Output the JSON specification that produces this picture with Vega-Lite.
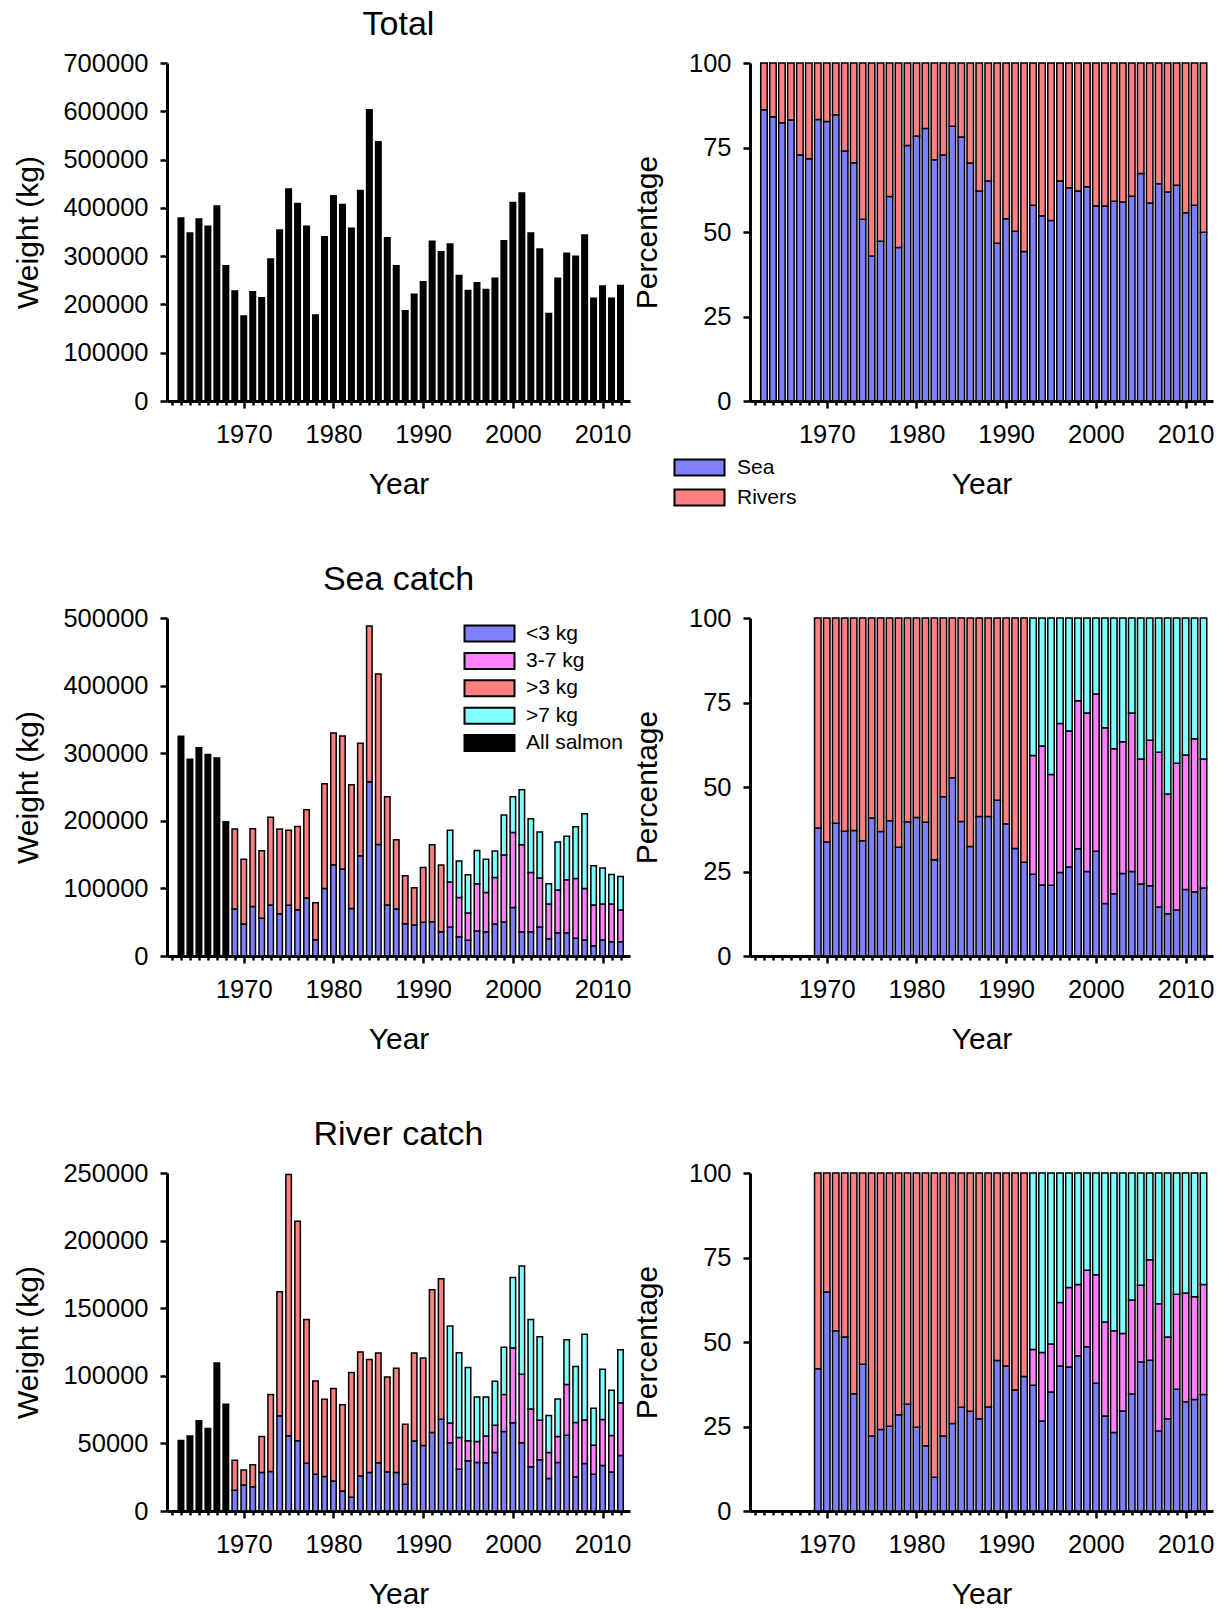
{
"$schema":"https://vega.github.io/schema/vega-lite/v6.json",
"background":"white",
"padding":{"left":13,"top":7,"right":5,"bottom":5},
"config":{
 "font":"Liberation Sans",
 "view":{"stroke":null},
 "axis":{"grid":false,"domainColor":"#000","domainWidth":3,"tickColor":"#000","tickWidth":2.5,"labelFont":"Liberation Sans","labelFontSize":25.5,"labelColor":"#000","titleFont":"Liberation Sans","titleFontSize":30,"titleFontWeight":"normal","titleColor":"#000"},
 "title":{"font":"Liberation Sans","fontSize":34,"fontWeight":"normal","color":"#000","anchor":"middle","frame":"group"},
 "legend":{"labelFont":"Liberation Sans","labelFontSize":21,"labelColor":"#000","symbolStrokeColor":"#000","symbolStrokeWidth":2,"padding":0}
},
"datasets":{
 "cats":[{"cat":"<3 kg","rank":1},{"cat":"3-7 kg","rank":2},{"cat":">3 kg","rank":2},{"cat":">7 kg","rank":3},{"cat":"All salmon","rank":1},{"cat":"Sea","rank":1},{"cat":"Rivers","rank":2}],
 "total":[{"year":1963,"w":379000},{"year":1964,"w":348000},{"year":1965,"w":377000},{"year":1966,"w":362000},{"year":1967,"w":404000},{"year":1968,"w":280000},{"year":1969,"w":228000},{"year":1970,"w":176000},{"year":1971,"w":226000},{"year":1972,"w":214000},{"year":1973,"w":294000},{"year":1974,"w":354000},{"year":1975,"w":439000},{"year":1976,"w":409000},{"year":1977,"w":362000},{"year":1978,"w":178000},{"year":1979,"w":340000},{"year":1980,"w":425000},{"year":1981,"w":407000},{"year":1982,"w":358000},{"year":1983,"w":436000},{"year":1984,"w":603000},{"year":1985,"w":537000},{"year":1986,"w":338000},{"year":1987,"w":280000},{"year":1988,"w":187000},{"year":1989,"w":221000},{"year":1990,"w":247000},{"year":1991,"w":331000},{"year":1992,"w":309000},{"year":1993,"w":325000},{"year":1994,"w":260000},{"year":1995,"w":229000},{"year":1996,"w":245000},{"year":1997,"w":231000},{"year":1998,"w":254000},{"year":1999,"w":332000},{"year":2000,"w":411000},{"year":2001,"w":431000},{"year":2002,"w":348000},{"year":2003,"w":315000},{"year":2004,"w":181000},{"year":2005,"w":254000},{"year":2006,"w":306000},{"year":2007,"w":300000},{"year":2008,"w":344000},{"year":2009,"w":213000},{"year":2010,"w":238000},{"year":2011,"w":213000},{"year":2012,"w":239000}],
 "pcttop":[{"year":1963,"Sea":86.2,"Rivers":13.8},{"year":1964,"Sea":84.1,"Rivers":15.9},{"year":1965,"Sea":82.3,"Rivers":17.7},{"year":1966,"Sea":83.1,"Rivers":16.9},{"year":1967,"Sea":72.8,"Rivers":27.2},{"year":1968,"Sea":71.7,"Rivers":28.3},{"year":1969,"Sea":83.3,"Rivers":16.7},{"year":1970,"Sea":82.7,"Rivers":17.3},{"year":1971,"Sea":84.7,"Rivers":15.3},{"year":1972,"Sea":74.0,"Rivers":26.0},{"year":1973,"Sea":70.5,"Rivers":29.5},{"year":1974,"Sea":53.8,"Rivers":46.2},{"year":1975,"Sea":42.9,"Rivers":57.1},{"year":1976,"Sea":47.3,"Rivers":52.7},{"year":1977,"Sea":60.5,"Rivers":39.5},{"year":1978,"Sea":45.4,"Rivers":54.6},{"year":1979,"Sea":75.6,"Rivers":24.4},{"year":1980,"Sea":78.4,"Rivers":21.6},{"year":1981,"Sea":80.6,"Rivers":19.4},{"year":1982,"Sea":71.4,"Rivers":28.6},{"year":1983,"Sea":72.8,"Rivers":27.2},{"year":1984,"Sea":81.3,"Rivers":18.7},{"year":1985,"Sea":78.1,"Rivers":21.9},{"year":1986,"Sea":70.4,"Rivers":29.6},{"year":1987,"Sea":62.1,"Rivers":37.9},{"year":1988,"Sea":65.1,"Rivers":34.9},{"year":1989,"Sea":46.7,"Rivers":53.3},{"year":1990,"Sea":53.9,"Rivers":46.1},{"year":1991,"Sea":50.2,"Rivers":49.8},{"year":1992,"Sea":44.2,"Rivers":55.8},{"year":1993,"Sea":57.9,"Rivers":42.1},{"year":1994,"Sea":54.8,"Rivers":45.2},{"year":1995,"Sea":53.4,"Rivers":46.6},{"year":1996,"Sea":65.1,"Rivers":34.9},{"year":1997,"Sea":63.1,"Rivers":36.9},{"year":1998,"Sea":62.1,"Rivers":37.9},{"year":1999,"Sea":63.4,"Rivers":36.6},{"year":2000,"Sea":57.7,"Rivers":42.3},{"year":2001,"Sea":57.7,"Rivers":42.3},{"year":2002,"Sea":59.1,"Rivers":40.9},{"year":2003,"Sea":58.9,"Rivers":41.1},{"year":2004,"Sea":60.6,"Rivers":39.4},{"year":2005,"Sea":67.3,"Rivers":32.7},{"year":2006,"Sea":58.6,"Rivers":41.4},{"year":2007,"Sea":64.3,"Rivers":35.7},{"year":2008,"Sea":61.8,"Rivers":38.2},{"year":2009,"Sea":63.8,"Rivers":36.2},{"year":2010,"Sea":55.7,"Rivers":44.3},{"year":2011,"Sea":57.9,"Rivers":42.1},{"year":2012,"Sea":49.9,"Rivers":50.1}],
 "sea":[{"year":1963,"All salmon":325000},{"year":1964,"All salmon":291000},{"year":1965,"All salmon":308000},{"year":1966,"All salmon":298000},{"year":1967,"All salmon":293000},{"year":1968,"All salmon":198500},
  {"year":1969,"<3 kg":69500,">3 kg":118200},{"year":1970,"<3 kg":47300,">3 kg":96000},{"year":1971,"<3 kg":73400,">3 kg":114800},{"year":1972,"<3 kg":55700,">3 kg":100000},{"year":1973,"<3 kg":75400,">3 kg":130000},{"year":1974,"<3 kg":62600,">3 kg":125100},{"year":1975,"<3 kg":74900,">3 kg":111300},{"year":1976,"<3 kg":68500,">3 kg":123100},{"year":1977,"<3 kg":85700,">3 kg":130600},{"year":1978,"<3 kg":24100,">3 kg":54700},{"year":1979,"<3 kg":100000,">3 kg":154700},{"year":1980,"<3 kg":135000,">3 kg":195000},{"year":1981,"<3 kg":128600,">3 kg":197000},{"year":1982,"<3 kg":70400,">3 kg":182800},{"year":1983,"<3 kg":148300,">3 kg":166500},{"year":1984,"<3 kg":257600,">3 kg":230600},{"year":1985,"<3 kg":165000,">3 kg":252200},{"year":1986,"<3 kg":75400,">3 kg":160100},{"year":1987,"<3 kg":69500,">3 kg":102400},{"year":1988,"<3 kg":47800,">3 kg":70900},{"year":1989,"<3 kg":45800,">3 kg":55200},{"year":1990,"<3 kg":49800,">3 kg":81200},{"year":1991,"<3 kg":50700,">3 kg":113800},{"year":1992,"<3 kg":36000,">3 kg":98500},
  {"year":1993,"<3 kg":42900,"3-7 kg":66500,">7 kg":76800},{"year":1994,"<3 kg":28600,"3-7 kg":58100,">7 kg":53700},{"year":1995,"<3 kg":23200,"3-7 kg":40300,">7 kg":56700},{"year":1996,"<3 kg":36900,"3-7 kg":70000,">7 kg":49300},{"year":1997,"<3 kg":36000,"3-7 kg":58100,">7 kg":49200},{"year":1998,"<3 kg":47300,"3-7 kg":69000,">7 kg":38900},{"year":1999,"<3 kg":50200,"3-7 kg":99100,">7 kg":59100},{"year":2000,"<3 kg":71900,"3-7 kg":110900,">7 kg":52700},{"year":2001,"<3 kg":36000,"3-7 kg":128500,">7 kg":81300},{"year":2002,"<3 kg":36000,"3-7 kg":87600,">7 kg":79400},{"year":2003,"<3 kg":42900,"3-7 kg":72400,">7 kg":68000},{"year":2004,"<3 kg":25600,"3-7 kg":51200,">7 kg":30100},{"year":2005,"<3 kg":34500,"3-7 kg":63000,">7 kg":71000},{"year":2006,"<3 kg":34500,"3-7 kg":78300,">7 kg":64500},{"year":2007,"<3 kg":26100,"3-7 kg":88700,">7 kg":76300},{"year":2008,"<3 kg":23600,"3-7 kg":76400,">7 kg":110300},{"year":2009,"<3 kg":15300,"3-7 kg":60100,">7 kg":58100},{"year":2010,"<3 kg":23600,"3-7 kg":53200,">7 kg":53200},{"year":2011,"<3 kg":21200,"3-7 kg":55600,">7 kg":43900},{"year":2012,"<3 kg":21200,"3-7 kg":46800,">7 kg":49700}],
 "river":[{"year":1963,"All salmon":52200},{"year":1964,"All salmon":55400},{"year":1965,"All salmon":66700},{"year":1966,"All salmon":61000},{"year":1967,"All salmon":109500},{"year":1968,"All salmon":79000},
  {"year":1969,"<3 kg":15300,">3 kg":22300},{"year":1970,"<3 kg":19200,">3 kg":11100},{"year":1971,"<3 kg":18000,">3 kg":16200},{"year":1972,"<3 kg":28500,">3 kg":26600},{"year":1973,"<3 kg":29300,">3 kg":56800},{"year":1974,"<3 kg":70400,">3 kg":91800},{"year":1975,"<3 kg":55600,">3 kg":193200},{"year":1976,"<3 kg":51900,">3 kg":162400},{"year":1977,"<3 kg":35400,">3 kg":106300},{"year":1978,"<3 kg":27100,">3 kg":69100},{"year":1979,"<3 kg":25600,">3 kg":57100},{"year":1980,"<3 kg":22100,">3 kg":68500},{"year":1981,"<3 kg":14800,">3 kg":63700},{"year":1982,"<3 kg":10100,">3 kg":92300},{"year":1983,"<3 kg":25800,">3 kg":91800},{"year":1984,"<3 kg":28500,">3 kg":83500},{"year":1985,"<3 kg":35700,">3 kg":81200},{"year":1986,"<3 kg":29000,">3 kg":70200},{"year":1987,"<3 kg":28500,">3 kg":77100},{"year":1988,"<3 kg":19700,">3 kg":44500},{"year":1989,"<3 kg":51700,">3 kg":65200},{"year":1990,"<3 kg":48500,">3 kg":64700},{"year":1991,"<3 kg":58100,">3 kg":105500},{"year":1992,"<3 kg":67900,">3 kg":103800},
  {"year":1993,"<3 kg":50400,"3-7 kg":14600,">7 kg":71800},{"year":1994,"<3 kg":30800,"3-7 kg":23600,">7 kg":62700},{"year":1995,"<3 kg":37200,"3-7 kg":14700,">7 kg":54200},{"year":1996,"<3 kg":35900,"3-7 kg":15500,">7 kg":33000},{"year":1997,"<3 kg":35700,"3-7 kg":19700,">7 kg":29000},{"year":1998,"<3 kg":43300,"3-7 kg":20200,">7 kg":32500},{"year":1999,"<3 kg":58800,"3-7 kg":27300,">7 kg":35000},{"year":2000,"<3 kg":65200,"3-7 kg":55400,">7 kg":52100},{"year":2001,"<3 kg":50400,"3-7 kg":50700,">7 kg":80200},{"year":2002,"<3 kg":32700,"3-7 kg":42800,">7 kg":66200},{"year":2003,"<3 kg":37900,"3-7 kg":29300,">7 kg":61700},{"year":2004,"<3 kg":24100,"3-7 kg":19200,">7 kg":27300},{"year":2005,"<3 kg":35900,"3-7 kg":19200,">7 kg":27800},{"year":2006,"<3 kg":56100,"3-7 kg":37400,">7 kg":33200},{"year":2007,"<3 kg":25100,"3-7 kg":40400,">7 kg":41300},{"year":2008,"<3 kg":35200,"3-7 kg":32200,">7 kg":63300},{"year":2009,"<3 kg":27100,"3-7 kg":21600,">7 kg":27300},{"year":2010,"<3 kg":33700,"3-7 kg":34000,">7 kg":37100},{"year":2011,"<3 kg":28800,"3-7 kg":27100,">7 kg":33400},{"year":2012,"<3 kg":41100,"3-7 kg":38900,">7 kg":39300}],
 "pctsea":[{"year":1969,"<3 kg":37.9,">3 kg":62.1},{"year":1970,"<3 kg":33.7,">3 kg":66.3},{"year":1971,"<3 kg":39.3,">3 kg":60.7},{"year":1972,"<3 kg":36.9,">3 kg":63.1},{"year":1973,"<3 kg":37.1,">3 kg":62.9},{"year":1974,"<3 kg":34.1,">3 kg":65.9},{"year":1975,"<3 kg":40.8,">3 kg":59.2},{"year":1976,"<3 kg":36.8,">3 kg":63.2},{"year":1977,"<3 kg":40.0,">3 kg":60.0},{"year":1978,"<3 kg":32.2,">3 kg":67.8},{"year":1979,"<3 kg":39.7,">3 kg":60.3},{"year":1980,"<3 kg":41.0,">3 kg":59.0},{"year":1981,"<3 kg":39.6,">3 kg":60.4},{"year":1982,"<3 kg":28.5,">3 kg":71.5},{"year":1983,"<3 kg":47.1,">3 kg":52.9},{"year":1984,"<3 kg":52.7,">3 kg":47.3},{"year":1985,"<3 kg":39.8,">3 kg":60.2},{"year":1986,"<3 kg":32.4,">3 kg":67.6},{"year":1987,"<3 kg":41.3,">3 kg":58.7},{"year":1988,"<3 kg":41.3,">3 kg":58.7},{"year":1989,"<3 kg":46.1,">3 kg":53.9},{"year":1990,"<3 kg":39.1,">3 kg":60.9},{"year":1991,"<3 kg":31.8,">3 kg":68.2},{"year":1992,"<3 kg":27.7,">3 kg":72.3},
  {"year":1993,"<3 kg":24.2,"3-7 kg":35.1,">7 kg":40.7},{"year":1994,"<3 kg":21.0,"3-7 kg":41.1,">7 kg":37.9},{"year":1995,"<3 kg":20.9,"3-7 kg":32.8,">7 kg":46.3},{"year":1996,"<3 kg":24.7,"3-7 kg":44.1,">7 kg":31.2},{"year":1997,"<3 kg":26.3,"3-7 kg":40.3,">7 kg":33.4},{"year":1998,"<3 kg":31.7,"3-7 kg":43.8,">7 kg":24.5},{"year":1999,"<3 kg":25.0,"3-7 kg":46.9,">7 kg":28.1},{"year":2000,"<3 kg":31.0,"3-7 kg":46.5,">7 kg":22.5},{"year":2001,"<3 kg":15.5,"3-7 kg":52.0,">7 kg":32.5},{"year":2002,"<3 kg":18.4,"3-7 kg":42.9,">7 kg":38.7},{"year":2003,"<3 kg":24.4,"3-7 kg":39.0,">7 kg":36.6},{"year":2004,"<3 kg":25.0,"3-7 kg":46.9,">7 kg":28.1},{"year":2005,"<3 kg":21.3,"3-7 kg":37.0,">7 kg":41.7},{"year":2006,"<3 kg":20.8,"3-7 kg":43.0,">7 kg":36.2},{"year":2007,"<3 kg":14.5,"3-7 kg":45.8,">7 kg":39.7},{"year":2008,"<3 kg":12.5,"3-7 kg":35.4,">7 kg":52.1},{"year":2009,"<3 kg":13.6,"3-7 kg":43.4,">7 kg":43.0},{"year":2010,"<3 kg":19.7,"3-7 kg":39.8,">7 kg":40.5},{"year":2011,"<3 kg":19.0,"3-7 kg":45.3,">7 kg":35.7},{"year":2012,"<3 kg":20.1,"3-7 kg":38.2,">7 kg":41.7}],
 "pctriver":[{"year":1969,"<3 kg":42.1,">3 kg":57.9},{"year":1970,"<3 kg":64.8,">3 kg":35.2},{"year":1971,"<3 kg":53.3,">3 kg":46.7},{"year":1972,"<3 kg":51.5,">3 kg":48.5},{"year":1973,"<3 kg":34.7,">3 kg":65.3},{"year":1974,"<3 kg":43.4,">3 kg":56.6},{"year":1975,"<3 kg":22.2,">3 kg":77.8},{"year":1976,"<3 kg":24.1,">3 kg":75.9},{"year":1977,"<3 kg":25.1,">3 kg":74.9},{"year":1978,"<3 kg":28.5,">3 kg":71.5},{"year":1979,"<3 kg":31.6,">3 kg":68.4},{"year":1980,"<3 kg":24.8,">3 kg":75.2},{"year":1981,"<3 kg":19.3,">3 kg":80.7},{"year":1982,"<3 kg":10.0,">3 kg":90.0},{"year":1983,"<3 kg":22.2,">3 kg":77.8},{"year":1984,"<3 kg":25.9,">3 kg":74.1},{"year":1985,"<3 kg":30.7,">3 kg":69.3},{"year":1986,"<3 kg":29.5,">3 kg":70.5},{"year":1987,"<3 kg":27.3,">3 kg":72.7},{"year":1988,"<3 kg":30.8,">3 kg":69.2},{"year":1989,"<3 kg":44.5,">3 kg":55.5},{"year":1990,"<3 kg":42.9,">3 kg":57.1},{"year":1991,"<3 kg":35.8,">3 kg":64.2},{"year":1992,"<3 kg":39.8,">3 kg":60.2},
  {"year":1993,"<3 kg":37.2,"3-7 kg":10.6,">7 kg":52.2},{"year":1994,"<3 kg":26.6,"3-7 kg":20.3,">7 kg":53.1},{"year":1995,"<3 kg":35.2,"3-7 kg":14.2,">7 kg":50.6},{"year":1996,"<3 kg":42.9,"3-7 kg":18.8,">7 kg":38.3},{"year":1997,"<3 kg":42.6,"3-7 kg":23.5,">7 kg":33.9},{"year":1998,"<3 kg":45.9,"3-7 kg":21.1,">7 kg":33.0},{"year":1999,"<3 kg":48.6,"3-7 kg":22.6,">7 kg":28.8},{"year":2000,"<3 kg":37.8,"3-7 kg":32.1,">7 kg":30.1},{"year":2001,"<3 kg":28.1,"3-7 kg":27.8,">7 kg":44.1},{"year":2002,"<3 kg":23.2,"3-7 kg":30.1,">7 kg":46.7},{"year":2003,"<3 kg":29.6,"3-7 kg":22.9,">7 kg":47.5},{"year":2004,"<3 kg":34.6,"3-7 kg":27.8,">7 kg":37.6},{"year":2005,"<3 kg":44.1,"3-7 kg":22.7,">7 kg":33.2},{"year":2006,"<3 kg":44.6,"3-7 kg":29.7,">7 kg":25.7},{"year":2007,"<3 kg":23.7,"3-7 kg":37.6,">7 kg":38.7},{"year":2008,"<3 kg":27.3,"3-7 kg":24.2,">7 kg":48.5},{"year":2009,"<3 kg":36.0,"3-7 kg":28.1,">7 kg":35.9},{"year":2010,"<3 kg":32.3,"3-7 kg":32.2,">7 kg":35.5},{"year":2011,"<3 kg":33.0,"3-7 kg":30.4,">7 kg":36.6},{"year":2012,"<3 kg":34.5,"3-7 kg":32.5,">7 kg":33.0}]
},
"columns":2,
"spacing":{"row":217,"column":120},
"bounds":"flush",
"resolve":{"scale":{"x":"independent","y":"independent","color":"independent"},"legend":{"color":"independent"}},
"concat":[
 {"width":463,"height":338,"title":{"text":"Total","offset":9.5},
  "data":{"name":"total"},
  "mark":{"type":"bar","width":5.5,"fill":"#000","stroke":"#000","strokeWidth":1.5},
  "encoding":{
   "x":{"field":"year","type":"quantitative","scale":{"domain":[1962,2012.5],"nice":false,"zero":false},"axis":{"title":"Year","values":[1962,1963,1964,1965,1966,1967,1968,1969,1970,1971,1972,1973,1974,1975,1976,1977,1978,1979,1980,1981,1982,1983,1984,1985,1986,1987,1988,1989,1990,1991,1992,1993,1994,1995,1996,1997,1998,1999,2000,2001,2002,2003,2004,2005,2006,2007,2008,2009,2010,2011,2012],"labelExpr":"datum.value % 10 === 0 ? '' + datum.value : ''","tickSize":{"condition":{"test":"datum.value % 10 === 0","value":7},"value":4},"labelPadding":14,"titlePadding":22,"labelOverlap":false,"labelFlush":false,"labelBound":false}},
   "y":{"field":"w","type":"quantitative","scale":{"domain":[0,700000],"nice":false},"axis":{"title":"Weight (kg)","values":[0,100000,200000,300000,400000,500000,600000,700000],"format":"d","tickSize":7,"labelPadding":12,"titlePadding":19}}
  }},
 {"width":463,"height":338,
  "data":{"name":"pcttop"},
  "transform":[{"fold":["Sea","Rivers"],"as":["cat","p"]},{"filter":{"field":"p","valid":true}},{"lookup":"cat","from":{"data":{"name":"cats"},"key":"cat","fields":["rank"]}}],
  "mark":{"type":"bar","width":6.5,"stroke":"#000","strokeWidth":1.5},
  "encoding":{
   "x":{"field":"year","type":"quantitative","scale":{"domain":[1962,2012.5],"nice":false,"zero":false},"axis":{"title":"Year","values":[1962,1963,1964,1965,1966,1967,1968,1969,1970,1971,1972,1973,1974,1975,1976,1977,1978,1979,1980,1981,1982,1983,1984,1985,1986,1987,1988,1989,1990,1991,1992,1993,1994,1995,1996,1997,1998,1999,2000,2001,2002,2003,2004,2005,2006,2007,2008,2009,2010,2011,2012],"labelExpr":"datum.value % 10 === 0 ? '' + datum.value : ''","tickSize":{"condition":{"test":"datum.value % 10 === 0","value":7},"value":4},"labelPadding":14,"titlePadding":22,"labelOverlap":false,"labelFlush":false,"labelBound":false}},
   "y":{"field":"p","type":"quantitative","stack":"zero","scale":{"domain":[0,100],"nice":false},"axis":{"title":"Percentage","values":[0,25,50,75,100],"tickSize":7,"labelPadding":12,"titlePadding":26}},
   "color":{"field":"cat","type":"nominal","scale":{"domain":["Sea","Rivers"],"range":["#8080ff","#ff8080"]},"legend":{"title":null,"orient":"none","legendX":-61,"legendY":394,"symbolType":"M-3.125,-1H3.125V1H-3.125Z","symbolSize":256,"labelOffset":27,"rowPadding":5}},
   "order":{"field":"rank","type":"quantitative","sort":"ascending"}
  }},
 {"width":463,"height":338,"title":{"text":"Sea catch","offset":9.5},
  "data":{"name":"sea"},
  "transform":[{"fold":["<3 kg","3-7 kg",">3 kg",">7 kg","All salmon"],"as":["cat","w"]},{"filter":{"field":"w","valid":true}},{"lookup":"cat","from":{"data":{"name":"cats"},"key":"cat","fields":["rank"]}}],
  "mark":{"type":"bar","width":5.5,"stroke":"#000","strokeWidth":1.5},
  "encoding":{
   "x":{"field":"year","type":"quantitative","scale":{"domain":[1962,2012.5],"nice":false,"zero":false},"axis":{"title":"Year","values":[1962,1963,1964,1965,1966,1967,1968,1969,1970,1971,1972,1973,1974,1975,1976,1977,1978,1979,1980,1981,1982,1983,1984,1985,1986,1987,1988,1989,1990,1991,1992,1993,1994,1995,1996,1997,1998,1999,2000,2001,2002,2003,2004,2005,2006,2007,2008,2009,2010,2011,2012],"labelExpr":"datum.value % 10 === 0 ? '' + datum.value : ''","tickSize":{"condition":{"test":"datum.value % 10 === 0","value":7},"value":4},"labelPadding":14,"titlePadding":22,"labelOverlap":false,"labelFlush":false,"labelBound":false}},
   "y":{"field":"w","type":"quantitative","stack":"zero","scale":{"domain":[0,500000],"nice":false},"axis":{"title":"Weight (kg)","values":[0,100000,200000,300000,400000,500000],"format":"d","tickSize":7,"labelPadding":12,"titlePadding":19}},
   "color":{"field":"cat","type":"nominal","scale":{"domain":["<3 kg","3-7 kg",">3 kg",">7 kg","All salmon"],"range":["#8080ff","#ff80ff","#ff8080","#80ffff","#000000"]},"legend":{"title":null,"orient":"none","legendX":312,"legendY":5,"symbolType":"M-3.125,-1H3.125V1H-3.125Z","symbolSize":256,"labelOffset":26,"rowPadding":2.4}},
   "order":{"field":"rank","type":"quantitative","sort":"ascending"}
  }},
 {"width":463,"height":338,
  "data":{"name":"pctsea"},
  "transform":[{"fold":["<3 kg","3-7 kg",">3 kg",">7 kg"],"as":["cat","p"]},{"filter":{"field":"p","valid":true}},{"lookup":"cat","from":{"data":{"name":"cats"},"key":"cat","fields":["rank"]}}],
  "mark":{"type":"bar","width":6.5,"stroke":"#000","strokeWidth":1.5},
  "encoding":{
   "x":{"field":"year","type":"quantitative","scale":{"domain":[1962,2012.5],"nice":false,"zero":false},"axis":{"title":"Year","values":[1962,1963,1964,1965,1966,1967,1968,1969,1970,1971,1972,1973,1974,1975,1976,1977,1978,1979,1980,1981,1982,1983,1984,1985,1986,1987,1988,1989,1990,1991,1992,1993,1994,1995,1996,1997,1998,1999,2000,2001,2002,2003,2004,2005,2006,2007,2008,2009,2010,2011,2012],"labelExpr":"datum.value % 10 === 0 ? '' + datum.value : ''","tickSize":{"condition":{"test":"datum.value % 10 === 0","value":7},"value":4},"labelPadding":14,"titlePadding":22,"labelOverlap":false,"labelFlush":false,"labelBound":false}},
   "y":{"field":"p","type":"quantitative","stack":"zero","scale":{"domain":[0,100],"nice":false},"axis":{"title":"Percentage","values":[0,25,50,75,100],"tickSize":7,"labelPadding":12,"titlePadding":26}},
   "color":{"field":"cat","type":"nominal","scale":{"domain":["<3 kg","3-7 kg",">3 kg",">7 kg","All salmon"],"range":["#8080ff","#ff80ff","#ff8080","#80ffff","#000000"]},"legend":null},
   "order":{"field":"rank","type":"quantitative","sort":"ascending"}
  }},
 {"width":463,"height":338,"title":{"text":"River catch","offset":9.5},
  "data":{"name":"river"},
  "transform":[{"fold":["<3 kg","3-7 kg",">3 kg",">7 kg","All salmon"],"as":["cat","w"]},{"filter":{"field":"w","valid":true}},{"lookup":"cat","from":{"data":{"name":"cats"},"key":"cat","fields":["rank"]}}],
  "mark":{"type":"bar","width":5.5,"stroke":"#000","strokeWidth":1.5},
  "encoding":{
   "x":{"field":"year","type":"quantitative","scale":{"domain":[1962,2012.5],"nice":false,"zero":false},"axis":{"title":"Year","values":[1962,1963,1964,1965,1966,1967,1968,1969,1970,1971,1972,1973,1974,1975,1976,1977,1978,1979,1980,1981,1982,1983,1984,1985,1986,1987,1988,1989,1990,1991,1992,1993,1994,1995,1996,1997,1998,1999,2000,2001,2002,2003,2004,2005,2006,2007,2008,2009,2010,2011,2012],"labelExpr":"datum.value % 10 === 0 ? '' + datum.value : ''","tickSize":{"condition":{"test":"datum.value % 10 === 0","value":7},"value":4},"labelPadding":14,"titlePadding":22,"labelOverlap":false,"labelFlush":false,"labelBound":false}},
   "y":{"field":"w","type":"quantitative","stack":"zero","scale":{"domain":[0,250000],"nice":false},"axis":{"title":"Weight (kg)","values":[0,50000,100000,150000,200000,250000],"format":"d","tickSize":7,"labelPadding":12,"titlePadding":19}},
   "color":{"field":"cat","type":"nominal","scale":{"domain":["<3 kg","3-7 kg",">3 kg",">7 kg","All salmon"],"range":["#8080ff","#ff80ff","#ff8080","#80ffff","#000000"]},"legend":null},
   "order":{"field":"rank","type":"quantitative","sort":"ascending"}
  }},
 {"width":463,"height":338,
  "data":{"name":"pctriver"},
  "transform":[{"fold":["<3 kg","3-7 kg",">3 kg",">7 kg"],"as":["cat","p"]},{"filter":{"field":"p","valid":true}},{"lookup":"cat","from":{"data":{"name":"cats"},"key":"cat","fields":["rank"]}}],
  "mark":{"type":"bar","width":6.5,"stroke":"#000","strokeWidth":1.5},
  "encoding":{
   "x":{"field":"year","type":"quantitative","scale":{"domain":[1962,2012.5],"nice":false,"zero":false},"axis":{"title":"Year","values":[1962,1963,1964,1965,1966,1967,1968,1969,1970,1971,1972,1973,1974,1975,1976,1977,1978,1979,1980,1981,1982,1983,1984,1985,1986,1987,1988,1989,1990,1991,1992,1993,1994,1995,1996,1997,1998,1999,2000,2001,2002,2003,2004,2005,2006,2007,2008,2009,2010,2011,2012],"labelExpr":"datum.value % 10 === 0 ? '' + datum.value : ''","tickSize":{"condition":{"test":"datum.value % 10 === 0","value":7},"value":4},"labelPadding":14,"titlePadding":22,"labelOverlap":false,"labelFlush":false,"labelBound":false}},
   "y":{"field":"p","type":"quantitative","stack":"zero","scale":{"domain":[0,100],"nice":false},"axis":{"title":"Percentage","values":[0,25,50,75,100],"tickSize":7,"labelPadding":12,"titlePadding":26}},
   "color":{"field":"cat","type":"nominal","scale":{"domain":["<3 kg","3-7 kg",">3 kg",">7 kg","All salmon"],"range":["#8080ff","#ff80ff","#ff8080","#80ffff","#000000"]},"legend":null},
   "order":{"field":"rank","type":"quantitative","sort":"ascending"}
  }}
]
}
